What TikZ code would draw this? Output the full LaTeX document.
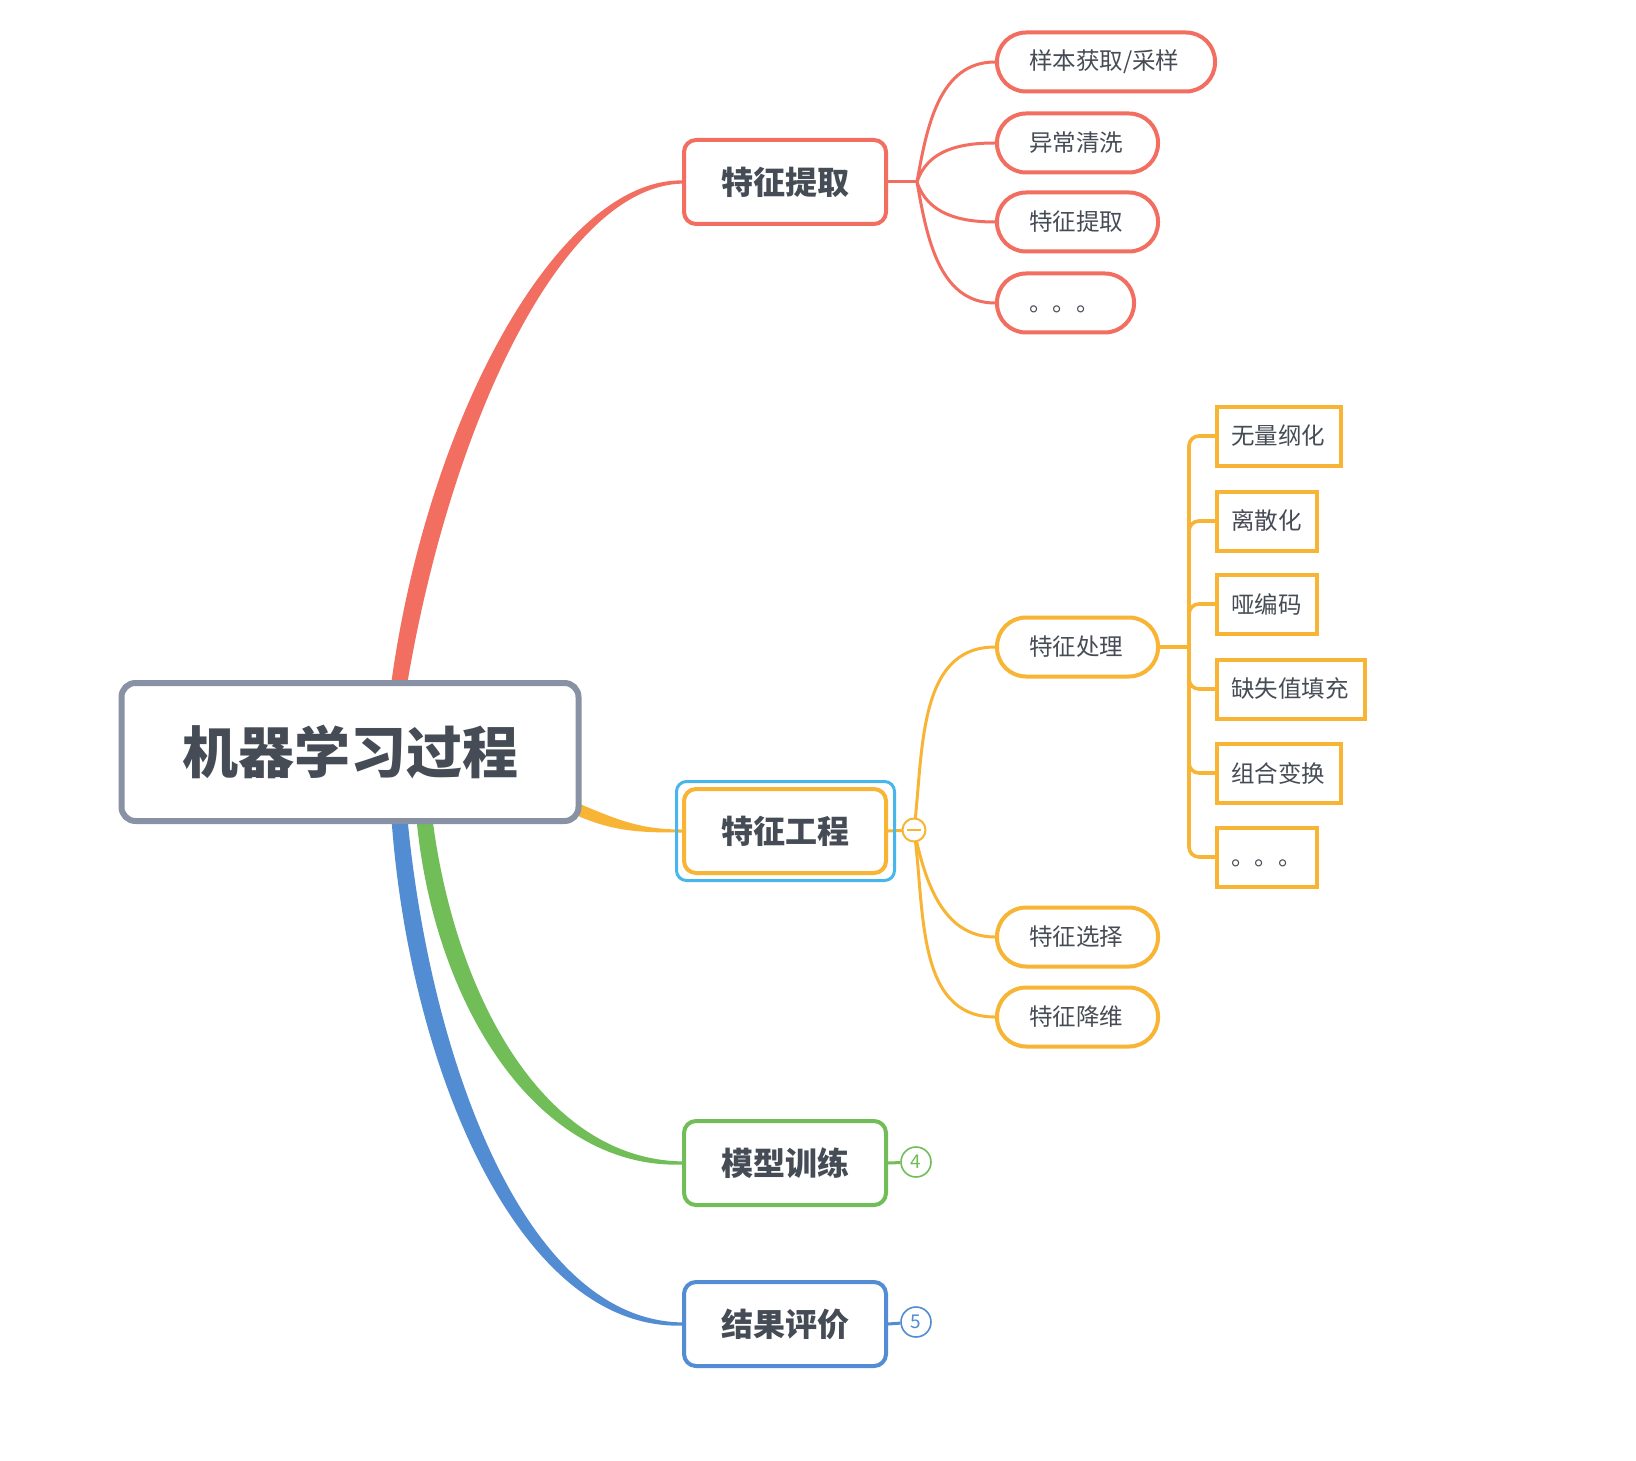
\documentclass[tikz,border=0pt]{standalone}
\usepackage{fontspec}
\setmainfont{Noto Sans CJK SC}
\usetikzlibrary{calc}
\definecolor{cred}{RGB}{242,110,96}
\definecolor{corange}{RGB}{248,180,52}
\definecolor{cgreen}{RGB}{113,190,88}
\definecolor{cblue}{RGB}{82,140,210}
\definecolor{csel}{RGB}{72,182,234}
\definecolor{cgray}{RGB}{136,146,164}
\definecolor{ctext}{RGB}{70,76,85}
\pgfdeclarelayer{back}
\pgfdeclarelayer{conn}
\pgfsetlayers{back,conn,main}
\newcommand{\lowdots}{\raisebox{-3pt}[\height][\depth]{。。。}}
\begin{document}
\begin{tikzpicture}[x=0.5pt,y=-0.5pt,
  rootbox/.style={draw=cgray, line width=3pt, rounded corners=7pt, fill=white,
    minimum width=228.5pt, minimum height=69pt, inner sep=0pt,
    font=\fontsize{28}{32}\selectfont\bfseries, text=ctext},
  topicbox/.style={draw=#1, line width=2pt, rounded corners=6pt, fill=white,
    minimum width=101pt, minimum height=42pt, inner sep=0pt,
    font=\fontsize{16}{19}\selectfont\bfseries, text=ctext},
  pillbox/.style={draw=#1, line width=2pt, rounded corners=14.5pt, fill=white,
    minimum height=29.5pt, inner xsep=16pt, inner ysep=0pt, align=left, anchor=west,
    font=\fontsize{11.75}{14}\selectfont, text=ctext},
  leafbox/.style={draw=corange, line width=2pt, fill=white,
    minimum height=29.5pt, inner xsep=7pt, inner ysep=0pt, align=left, anchor=west,
    font=\fontsize{11.75}{14}\selectfont, text=ctext},
  badge/.style={circle, draw=#1, line width=0.8pt, fill=white, minimum size=15pt,
    inner sep=0pt, text=#1, font=\fontsize{9.5}{11}\selectfont},
  twig/.style={draw=#1, line width=1.5pt},
]
\useasboundingbox (0,0) rectangle (1636,1460);
\begin{pgfonlayer}{back}
\fill[white] (0,0) rectangle (1636,1460);
\end{pgfonlayer}

% nodes
\node[rootbox] (root) at (350,752) {机器学习过程};
\node[topicbox=cred] (t1) at (785,182) {特征提取};
\node[topicbox=corange] (t2) at (785,831) {特征工程};
\node[draw=csel, line width=1.5pt, rounded corners=5pt, minimum width=109pt,
      minimum height=49.5pt, inner sep=0pt] (sel) at (785.5,831) {};
\node[topicbox=cgreen] (t3) at (785,1163) {模型训练};
\node[topicbox=cblue] (t4) at (785,1324) {结果评价};

\node[pillbox=cred, text width=77pt] (r1) at (995,62) {样本获取/采样};
\node[pillbox=cred, text width=48.5pt] (r2) at (995,143) {异常清洗};
\node[pillbox=cred, text width=48.5pt] (r3) at (995,222) {特征提取};
\node[pillbox=cred, text width=36.5pt] (r4) at (995,303) {\lowdots};

\node[pillbox=corange, text width=48.5pt] (o1) at (995,647) {特征处理};
\node[pillbox=corange, text width=48.5pt] (o2) at (995,937) {特征选择};
\node[pillbox=corange, text width=48.5pt] (o3) at (995,1017) {特征降维};

\node[leafbox, text width=48pt] (l1) at (1215,436) {无量纲化};
\node[leafbox, text width=36pt] (l2) at (1215,521) {离散化};
\node[leafbox, text width=36pt] (l3) at (1215,604) {哑编码};
\node[leafbox, text width=60pt] (l4) at (1215,689) {缺失值填充};
\node[leafbox, text width=48pt] (l5) at (1215,773) {组合变换};
\node[leafbox, text width=36pt] (l6) at (1215,857) {\lowdots};

\node[badge=cgreen] (b4) at (916,1162) {4};
\node[badge=cblue] (b5) at (916,1322) {5};
\node[circle, draw=corange, line width=1pt, fill=white, minimum size=11.5pt, inner sep=0pt] (mc) at (914,830) {};
\draw[corange, line width=1pt] ($(mc.center)+(-7,0)$) -- ($(mc.center)+(7,0)$);

\begin{pgfonlayer}{conn}
% main tapered branches
\fill[cred] ($(root.north)+(41,5)$) .. controls (427,419) and (558,179) ..
  ($(t1.west)+(0,-1.6)$) -- ($(t1.west)+(0,1.6)$) .. controls (562,187) and (451,423) ..
  ($(root.north)+(57,5)$) -- cycle;
\fill[cblue] ($(root.south)+(41.5,-5)$) .. controls (409,1065) and (517,1330) ..
  ($(t4.west)+(0,1.6)$) -- ($(t4.west)+(0,-1.6)$) .. controls (523,1320) and (430,1055) ..
  ($(root.south)+(57.5,-5)$) -- cycle;
\fill[cgreen] ($(root.south)+(66.5,-5)$) .. controls (434,1005) and (537,1169) ..
  ($(t3.west)+(0,1.6)$) -- ($(t3.west)+(0,-1.6)$) .. controls (543,1159) and (455,995) ..
  ($(root.south)+(82.5,-5)$) -- cycle;
\fill[corange] ($(root.east)+(-10,61)$) .. controls (612,832) and (640,832.5) ..
  ($(t2.west)+(0,1.5)$) -- ($(t2.west)+(0,-1.5)$) .. controls (640,829.5) and (618,820) ..
  ($(root.east)+(-4,51)$) -- cycle;

% red sub-branches
\coordinate (f1) at ($(t1.east)+(29,0)$);
\draw[twig=cred] (t1.east) -- (f1);
\draw[twig=cred] (f1) to[out=80,in=180] (r1.west);
\draw[twig=cred] (f1) to[out=72,in=180] (r2.west);
\draw[twig=cred] (f1) to[out=-72,in=180] (r3.west);
\draw[twig=cred] (f1) to[out=-80,in=180] (r4.west);

% orange sub-branches
\draw[twig=corange] (t2.east) -- (mc.center);
\draw[twig=corange] (mc.center) to[out=83,in=180] (o1.west);
\draw[twig=corange] (mc.center) to[out=-78,in=180] (o2.west);
\draw[twig=corange] (mc.center) to[out=-82,in=180] (o3.west);

% leaf tree
\coordinate (tr) at ($(o1.east)+(29,0)$);
\draw[twig=corange, line width=1.8pt] (o1.east) -- (tr);
\foreach \n in {l1,l2,l3,l4,l5,l6}
  \draw[twig=corange, line width=1.8pt, rounded corners=5pt] (tr) -- (tr |- \n.west) -- (\n.west);

% badges
\draw[twig=cgreen] (t3.east) -- (b4);
\draw[twig=cblue] (t4.east) -- (b5);
\end{pgfonlayer}
\end{tikzpicture}
\end{document}
